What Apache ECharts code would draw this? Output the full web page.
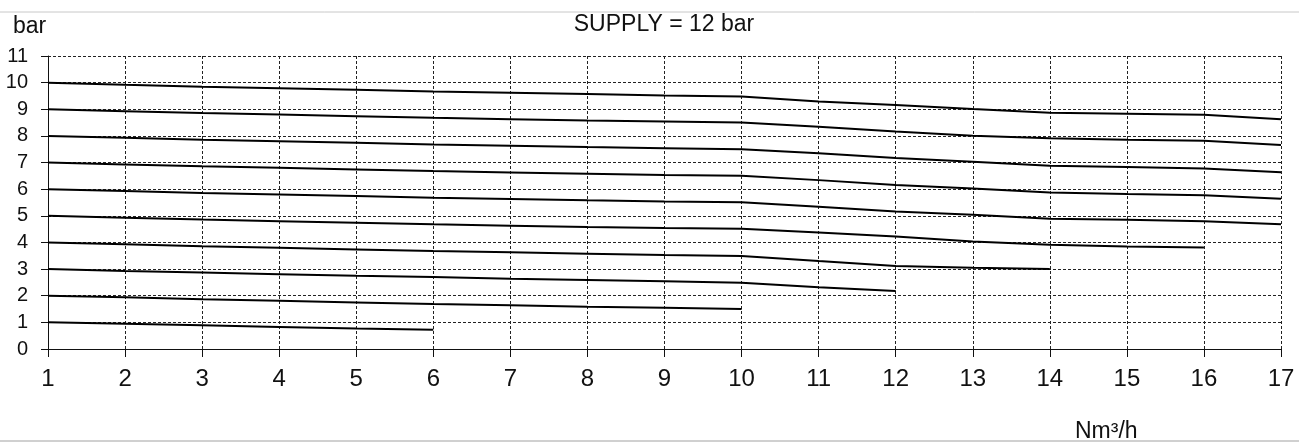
<!DOCTYPE html>
<html>
<head>
<meta charset="utf-8">
<title>SUPPLY = 12 bar</title>
<script src="https://cdn.jsdelivr.net/npm/echarts@6/dist/echarts.min.js"></script>
<style>
  html, body { margin: 0; padding: 0; background: #fff; }
  #chart { width: 1299px; height: 442px; }
</style>
</head>
<body>
<div id="chart"></div>
<script>
// flow values on the x axis (Nm3/h)
var flow = [1, 2, 3, 4, 5, 6, 7, 8, 9, 10, 11, 12, 13, 14, 15, 16, 17];

// outlet pressure curves (bar), one per set pressure, read point by point
var p10 = [10, 9.92, 9.85, 9.79, 9.73, 9.67, 9.62, 9.57, 9.52, 9.48, 9.29, 9.16, 9.01, 8.87, 8.83, 8.79, 8.63];
var p9  = [9, 8.93, 8.86, 8.8, 8.74, 8.68, 8.63, 8.58, 8.54, 8.5, 8.34, 8.17, 8.01, 7.91, 7.86, 7.82, 7.66];
var p8  = [8, 7.93, 7.86, 7.8, 7.74, 7.68, 7.63, 7.58, 7.54, 7.5, 7.35, 7.17, 7.03, 6.88, 6.83, 6.78, 6.64];
var p7  = [7, 6.93, 6.86, 6.8, 6.74, 6.68, 6.63, 6.58, 6.53, 6.5, 6.34, 6.16, 6.03, 5.88, 5.82, 5.77, 5.64];
var p6  = [6, 5.93, 5.86, 5.8, 5.74, 5.68, 5.63, 5.58, 5.54, 5.51, 5.34, 5.16, 5.04, 4.89, 4.85, 4.8, 4.68];
var p5  = [5, 4.93, 4.86, 4.8, 4.74, 4.68, 4.63, 4.58, 4.54, 4.51, 4.37, 4.22, 4.04, 3.91, 3.85, 3.81];
var p4  = [4, 3.93, 3.86, 3.8, 3.74, 3.68, 3.63, 3.58, 3.53, 3.49, 3.3, 3.12, 3.05, 3.0];
var p3  = [3, 2.93, 2.87, 2.81, 2.75, 2.7, 2.64, 2.59, 2.54, 2.49, 2.32, 2.18];
var p2  = [2, 1.94, 1.87, 1.81, 1.75, 1.69, 1.64, 1.59, 1.55, 1.5];
var p1  = [1, 0.95, 0.89, 0.83, 0.77, 0.72];

var curves = [
  { name: '10 bar', values: p10 },
  { name: '9 bar', values: p9 },
  { name: '8 bar', values: p8 },
  { name: '7 bar', values: p7 },
  { name: '6 bar', values: p6 },
  { name: '5 bar', values: p5 },
  { name: '4 bar', values: p4 },
  { name: '3 bar', values: p3 },
  { name: '2 bar', values: p2 },
  { name: '1 bar', values: p1 }
];

var font = 'Liberation Sans, Arial, sans-serif';

var chart = echarts.init(document.getElementById('chart'));

// dashed grid like the printed chart
var gridLine = { show: true, lineStyle: { color: '#222', width: 1, type: [3, 2] } };

var option = {
  animation: false,
  backgroundColor: '#fff',
  title: {
    text: 'SUPPLY = 12 bar',
    left: 659,
    top: 8,
    textAlign: 'center',
    textStyle: { fontFamily: font, fontSize: 23, fontWeight: 'normal', color: '#111' }
  },
  grid: { left: 48, right: 18, top: 56, bottom: 93, containLabel: false },
  xAxis: {
    type: 'value',
    min: 1,
    max: 17,
    interval: 1,
    axisLine: { show: true, lineStyle: { color: '#111', width: 1 } },
    axisTick: { show: true, length: 8, lineStyle: { color: '#111' } },
    axisLabel: { margin: 18, fontFamily: font, fontSize: 24, color: '#111' },
    splitLine: gridLine
  },
  yAxis: {
    type: 'value',
    min: 0,
    max: 11,
    interval: 1,
    axisLine: { show: true, lineStyle: { color: '#111', width: 1 } },
    axisTick: { show: true, length: 7, lineStyle: { color: '#111' } },
    axisLabel: { margin: 20, fontFamily: font, fontSize: 20, color: '#111' },
    splitLine: gridLine
  },
  graphic: [
    { type: 'line', shape: { x1: 0, y1: 12, x2: 1299, y2: 12 }, style: { stroke: '#c8c8c8', lineWidth: 1 } },
    { type: 'line', shape: { x1: 0, y1: 441, x2: 1299, y2: 441 }, style: { stroke: '#c0c0c0', lineWidth: 1.5 } },
    { type: 'text', left: 13, top: 15, style: { text: 'bar', font: '23px ' + font, fill: '#111' } },
    { type: 'text', left: 1075, top: 420, style: { text: 'Nm³/h', font: '23px ' + font, fill: '#111' } }
  ],
  series: curves.map(function (c) {
    return {
      name: c.name,
      type: 'line',
      showSymbol: false,
      smooth: false,
      lineStyle: { color: '#000', width: 2 },
      data: c.values.map(function (v, i) { return [flow[i], v]; })
    };
  })
};

chart.setOption(option);
</script>
</body>
</html>
